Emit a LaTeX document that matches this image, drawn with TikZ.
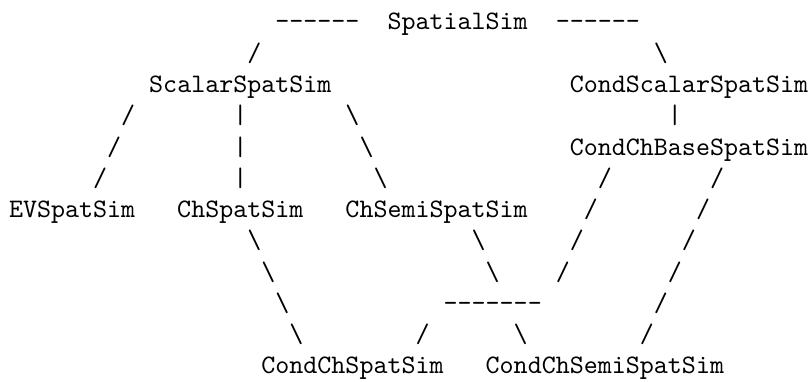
\documentclass[tikz,border=0pt]{standalone}
\newcommand\hy{\mbox{-}}
\newcommand\bsl{\textbackslash}
\tikzset{
  tt/.style={font=\ttfamily\fontsize{10pt}{12pt}\selectfont, anchor=base west, inner sep=0pt, outer sep=0pt, text=black},
}
\begin{document}
\begin{tikzpicture}[x=5.25pt,y=-11.71pt]
\useasboundingbox[fill=white] (-0.642,-0.959) rectangle (57.06,11.225);
% line 0
\node[tt] (dashL) at (19,0) {\hy\hy\hy\hy\hy\hy};
\node[tt] (spatial) at (27,0) {SpatialSim};
\node[tt] (dashR) at (39,0) {\hy\hy\hy\hy\hy\hy};
% line 1
\node[tt] (c1a) at (17,1) {/};
\node[tt] (c1b) at (46,1) {\bsl};
% line 2
\node[tt] (scalar) at (10,2) {ScalarSpatSim};
\node[tt] (condscalar) at (40,2) {CondScalarSpatSim};
% line 3
\node[tt] (c3a) at (8,3) {/};
\node[tt] (c3b) at (16,3) {|};
\node[tt] (c3c) at (24,3) {\bsl};
\node[tt] (c3d) at (47,3) {|};
% line 4
\node[tt] (c4a) at (7,4) {/};
\node[tt] (c4b) at (16,4) {|};
\node[tt] (c4c) at (25,4) {\bsl};
\node[tt] (condchbase) at (40,4) {CondChBaseSpatSim};
% line 5
\node[tt] (c5a) at (6,5) {/};
\node[tt] (c5b) at (16,5) {|};
\node[tt] (c5c) at (26,5) {\bsl};
\node[tt] (c5d) at (42,5) {/};
\node[tt] (c5e) at (50,5) {/};
% line 6
\node[tt] (ev) at (0,6) {EVSpatSim};
\node[tt] (ch) at (12,6) {ChSpatSim};
\node[tt] (chsemi) at (24,6) {ChSemiSpatSim};
\node[tt] (c6a) at (41,6) {/};
\node[tt] (c6b) at (49,6) {/};
% line 7
\node[tt] (c7a) at (17,7) {\bsl};
\node[tt] (c7b) at (33,7) {\bsl};
\node[tt] (c7c) at (40,7) {/};
\node[tt] (c7d) at (48,7) {/};
% line 8
\node[tt] (c8a) at (18,8) {\bsl};
\node[tt] (c8b) at (34,8) {\bsl};
\node[tt] (c8c) at (39,8) {/};
\node[tt] (c8d) at (47,8) {/};
% line 9
\node[tt] (c9a) at (19,9) {\bsl};
\node[tt] (join) at (31,9) {\hy\hy\hy\hy\hy\hy\hy};
\node[tt] (c9c) at (46,9) {/};
% line 10
\node[tt] (c10a) at (20,10) {\bsl};
\node[tt] (c10b) at (29,10) {/};
\node[tt] (c10c) at (36,10) {\bsl};
\node[tt] (c10d) at (45,10) {/};
% line 11
\node[tt] (condch) at (18,11) {CondChSpatSim};
\node[tt] (condchsemi) at (34,11) {CondChSemiSpatSim};
\end{tikzpicture}
\end{document}
